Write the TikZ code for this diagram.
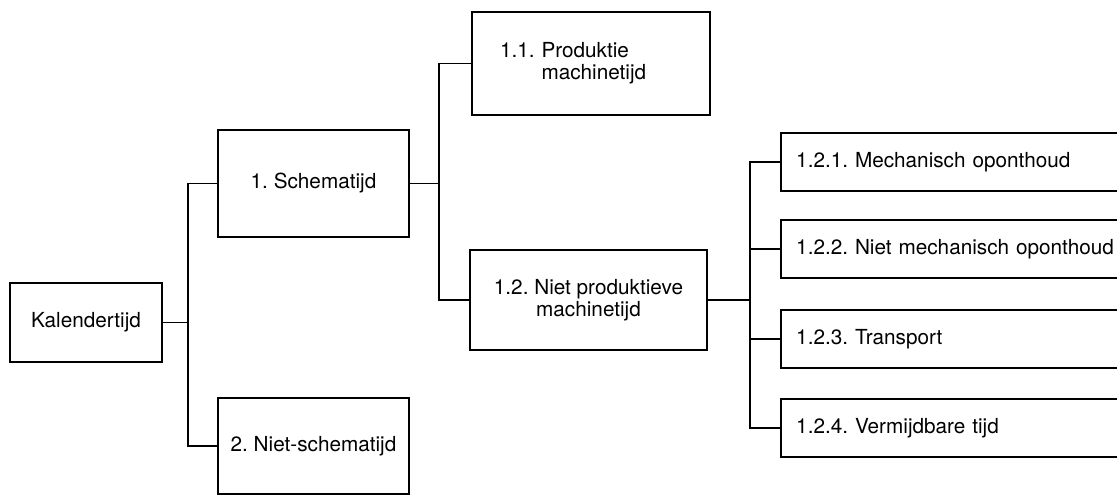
\documentclass[tikz,border=0pt]{standalone}
\usepackage{fontspec}
\setmainfont{TeX Gyre Heros}
\frenchspacing
\usetikzlibrary{positioning}
\tikzset{
    % boxes of the time breakdown
    tijdbox/.style={
        draw, line width=1.4pt, inner sep=0pt, align=center,
        font=\fontsize{11.8}{12.5}\selectfont
    },
    % boxes with the text set flush left
    leftbox/.style={tijdbox, align=left, inner xsep=#1, inner ysep=0pt},
    % thin lines between the boxes
    link/.style={line width=0.7pt}
}
\begin{document}
\begin{tikzpicture}[x=0.02cm, y=-0.02cm]
    \useasboundingbox (0,0) rectangle (1117,499);
    \node[tijdbox, minimum width=3.04cm, minimum height=1.58cm] (kal) at (86,322.5) {Kalendertijd};
    \node[tijdbox, minimum width=3.82cm, minimum height=2.14cm] (sched) at (313.5,183.5) {1. Schematijd};
    \node[tijdbox, minimum width=3.82cm, minimum height=1.92cm] (nsched) at (313.5,446) {2. Niet-schematijd};
    \node[leftbox=0.56cm, text width=3.64cm, minimum height=2.06cm] (prod) at (591,63.5)
        {1.1.~Produktie\\\hphantom{1.1.~}machinetijd};
    \node[tijdbox, minimum width=4.74cm, minimum height=2cm] (nprod) at (588.5,300)
        {1.2. Niet produktieve\\machinetijd};
    % right column runs off the page
    \foreach \y/\name/\txt in {162/mech/1.2.1. Mechanisch oponthoud,
                               249/nmech/1.2.2. Niet mechanisch oponthoud,
                               339/trans/1.2.3. Transport,
                               428/verm/1.2.4. Vermijdbare tijd} {
        \node[leftbox=0.3cm, text width=7cm, minimum height=1.16cm, anchor=west] (\name) at (780,\y) {\txt};
    }
    % first split
    \coordinate (j1) at (188,322.5);
    \draw[link] (kal.east) -- (j1);
    \draw[link] (j1) |- (sched.west);
    \draw[link] (j1) |- (nsched.west);
    % second split
    \coordinate (j2) at (439,183.5);
    \draw[link] (sched.east) -- (j2);
    \draw[link] (j2) |- (prod.west);
    \draw[link] (j2) |- (nprod.west);
    % third split
    \coordinate (j3) at (750,300);
    \draw[link] (nprod.east) -- (j3);
    \foreach \name in {mech, nmech, trans, verm} {
        \draw[link] (j3) |- (\name.west);
    }
\end{tikzpicture}
\end{document}
